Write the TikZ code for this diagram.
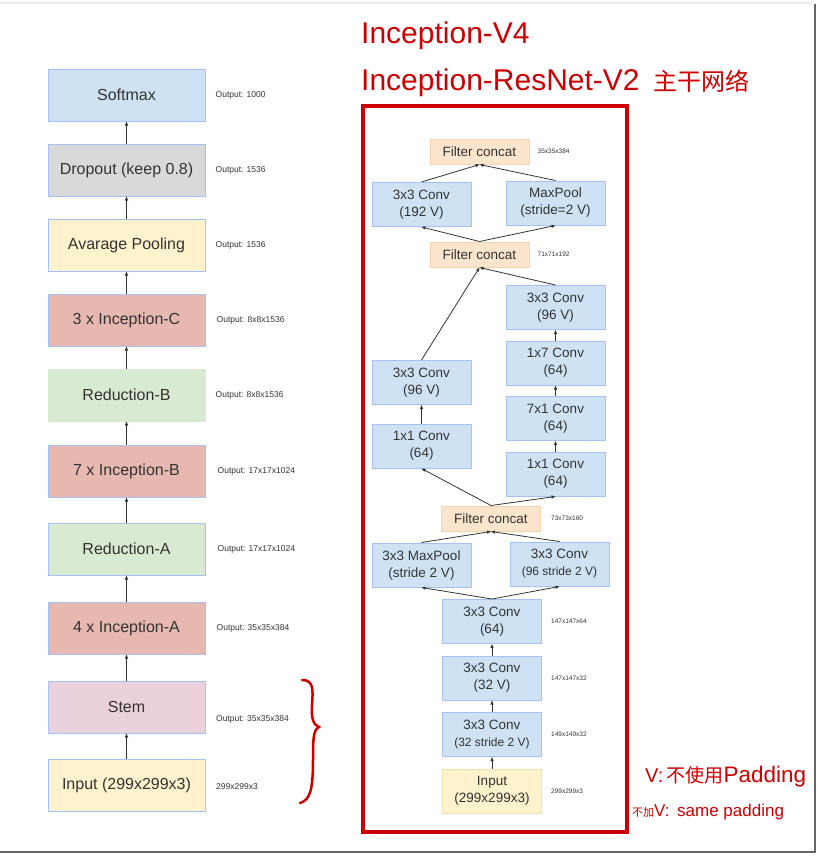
\documentclass[tikz,border=0pt]{standalone}
\usepackage{fontspec}
\setmainfont{Liberation Sans}
\newfontfamily\cjk{Noto Sans CJK SC}
\usetikzlibrary{arrows.meta, positioning}
\definecolor{boxline}{RGB}{164,194,244}
\definecolor{convblue}{RGB}{207,226,243}
\definecolor{dropgray}{RGB}{217,217,217}
\definecolor{poolyellow}{RGB}{255,242,204}
\definecolor{inputline}{RGB}{240,225,170}
\definecolor{incred}{RGB}{230,184,175}
\definecolor{redgreen}{RGB}{217,234,211}
\definecolor{stempink}{RGB}{234,209,220}
\definecolor{concatorange}{RGB}{252,229,205}
\definecolor{concatline}{RGB}{249,210,170}
\definecolor{inkred}{RGB}{204,0,0}
\definecolor{txtgray}{RGB}{51,51,51}

\begin{document}
\begin{tikzpicture}[x=1pt, y=-1pt,
    layer/.style={draw=boxline, line width=1pt, minimum width=157pt, minimum height=52pt, inner sep=0pt, text=txtgray, font=\fontsize{16}{19}\selectfont},
    conv/.style={draw=boxline, fill=convblue, line width=1pt, minimum width=99pt, minimum height=44pt, inner sep=0pt, align=center, text=txtgray, font=\fontsize{13.5}{17}\selectfont},
    concat/.style={conv, draw=concatline, fill=concatorange, minimum height=25pt},
    lbl/.style={font=\fontsize{8.5}{10}\selectfont, text=txtgray, inner sep=0pt},
    dim/.style={font=\fontsize{6.5}{8}\selectfont, text=txtgray, inner sep=0pt},
    arr/.style={-{Triangle[length=4pt, width=3pt]}, line width=0.8pt, draw=txtgray},
    hand/.style={text=inkred, inner sep=0pt, anchor=west}
  ]
    \useasboundingbox (0,0) rectangle (818,857);
    % screenshot frame
    \draw[black!8, line width=2pt] (0,3) -- (812,3);
    \draw[black!60, line width=2pt] (815,4) -- (815,852) -- (0,852);

    % main network
    \node[layer, fill=poolyellow] (input) at (126.5,785) {Input (299x299x3)};
    \node[layer, fill=stempink, above=25pt of input] (stem) {Stem};
    \node[layer, fill=incred, above=26pt of stem] (inca) {4 x Inception-A};
    \node[layer, fill=redgreen, above=26pt of inca] (reda) {Reduction-A};
    \node[layer, fill=incred, above=25pt of reda] (incb) {7 x Inception-B};
    \node[layer, fill=redgreen, draw=redgreen, above=23pt of incb] (redb) {Reduction-B};
    \node[layer, fill=incred, above=22pt of redb] (incc) {3 x Inception-C};
    \node[layer, fill=poolyellow, above=22pt of incc] (avgpool) {Avarage Pooling};
    \node[layer, fill=dropgray, above=22pt of avgpool] (dropout) {Dropout (keep 0.8)};
    \node[layer, fill=convblue, above=22pt of dropout] (softmax) {Softmax};

    \foreach \a/\b in {input/stem, stem/inca, inca/reda, reda/incb, incb/redb, redb/incc, incc/avgpool, avgpool/dropout, dropout/softmax}
      \draw[arr] (\a.north) -- (\b.south);

    \node[lbl, right=10pt of softmax] (outsoftmax) {Output: 1000};
    \node[lbl, right=10pt of dropout] (outdropout) {Output: 1536};
    \node[lbl, right=10pt of avgpool] (outavgpool) {Output: 1536};
    \node[lbl, right=11pt of incc] (outincc) {Output: 8x8x1536};
    \node[lbl, right=10pt of redb] (outredb) {Output: 8x8x1536};
    \node[lbl, right=12pt of incb] (outincb) {Output: 17x17x1024};
    \node[lbl, right=12pt of reda] (outreda) {Output: 17x17x1024};
    \node[lbl, right=11pt of inca] (outinca) {Output: 35x35x384};
    \node[lbl, anchor=west] (outstem) at (216,719) {Output: 35x35x384};
    \node[lbl, anchor=west] (outinput) at (216,787) {299x299x3};

    % stem brace
    \draw[inkred, line width=2.5pt, line cap=round] (302,680) .. controls (314,680) and (313,690) .. (312,705)
      .. controls (311,720) and (314,725) .. (319,727) .. controls (313,730) and (313,740) .. (313,760)
      .. controls (313,790) and (310,800) .. (300,803);

    % stem detail
    \draw[inkred, line width=4pt] (363,106) rectangle (627,832);
    \node[conv, fill=poolyellow, draw=inputline] (in0) at (492,791) {Input\\(299x299x3)};
    \node[conv, above=11.5pt of in0] (s1) {3x3 Conv\\{\fontsize{12}{14}\selectfont(32 stride 2 V)}};
    \node[conv, above=11.5pt of s1] (s2) {3x3 Conv\\(32 V)};
    \node[conv, above=11.5pt of s2] (s3) {3x3 Conv\\(64)};
    \node[conv] (mp1) at (421.5,565) {3x3 MaxPool\\(stride 2 V)};
    \node[conv] (cv1) at (559.5,564) {3x3 Conv\\{\fontsize{12}{14}\selectfont(96 stride 2 V)}};
    \node[concat] (fc1) at (491,518.5) {Filter concat};
    \node[conv] (l1) at (421.5,446) {1x1 Conv\\(64)};
    \node[conv, above=18.5pt of l1] (l2) {3x3 Conv\\(96 V)};
    \node[conv] (r1) at (555.5,474) {1x1 Conv\\(64)};
    \node[conv, above=10.5pt of r1] (r2) {7x1 Conv\\(64)};
    \node[conv, above=10.5pt of r2] (r3) {1x7 Conv\\(64)};
    \node[conv, above=10.5pt of r3] (r4) {3x3 Conv\\(96 V)};
    \node[concat] (fc2) at (479.5,254.5) {Filter concat};
    \node[conv] (t1) at (421.5,204.5) {3x3 Conv\\(192 V)};
    \node[conv] (t2) at (555.5,203) {MaxPool\\(stride=2 V)};
    \node[concat] (fc3) at (479.5,151.5) {Filter concat};

    \node[dim, right=8pt of fc3] (dimfc3) {35x35x384};
    \node[dim, right=8pt of fc2] (dimfc2) {71x71x192};
    \node[dim, right=10pt of fc1] (dimfc1) {73x73x160};
    \node[dim, right=9pt of s3] (dims3) {147x147x64};
    \node[dim, right=9pt of s2] (dims2) {147x147x32};
    \node[dim, right=9pt of s1] (dims1) {149x149x32};
    \node[dim, right=9pt of in0] (dimin0) {299x299x3};

    \draw[arr] (in0) -- (s1);
    \draw[arr] (s1) -- (s2);
    \draw[arr] (s2) -- (s3);
    \draw[arr] (s3.north) -- (mp1.south);
    \draw[arr] (s3.north) -- (cv1.south);
    \draw[arr] (mp1.north) -- (fc1.south);
    \draw[arr] (cv1.north) -- (fc1.south);
    \draw[arr] (fc1.north) -- (l1.south);
    \draw[arr] (fc1.north) -- (r1.south);
    \draw[arr] (l1) -- (l2);
    \draw[arr] (r1) -- (r2);
    \draw[arr] (r2) -- (r3);
    \draw[arr] (r3) -- (r4);
    \draw[arr] (l2.north) -- (fc2.south);
    \draw[arr] (r4.north) -- (fc2.south);
    \draw[arr] (fc2.north) -- (t1.south);
    \draw[arr] (fc2.north) -- (t2.south);
    \draw[arr] (t1.north) -- (fc3.south);
    \draw[arr] (t2.north) -- (fc3.south);

    % handwritten notes
    \node[hand, font=\fontsize{30}{30}\selectfont] (titlevfour) at (361,36) {Inception-V4};
    \node[hand, font=\fontsize{30}{30}\selectfont] (titleresnet) at (361,83) {Inception-ResNet-V2\hspace{14pt}{\cjk\fontsize{24}{24}\selectfont 主干网络}};
    \node[hand] (notevalid) at (645,777) {\fontsize{20}{20}\selectfont V:\,{\cjk\fontsize{19}{19}\selectfont 不使用}\fontsize{22.5}{22.5}\selectfont Padding};
    \node[hand] (notesame) at (632,812) {{\cjk\fontsize{11}{11}\selectfont 不加}\fontsize{17}{17}\selectfont V:\, same padding};
  \end{tikzpicture}
\end{document}
